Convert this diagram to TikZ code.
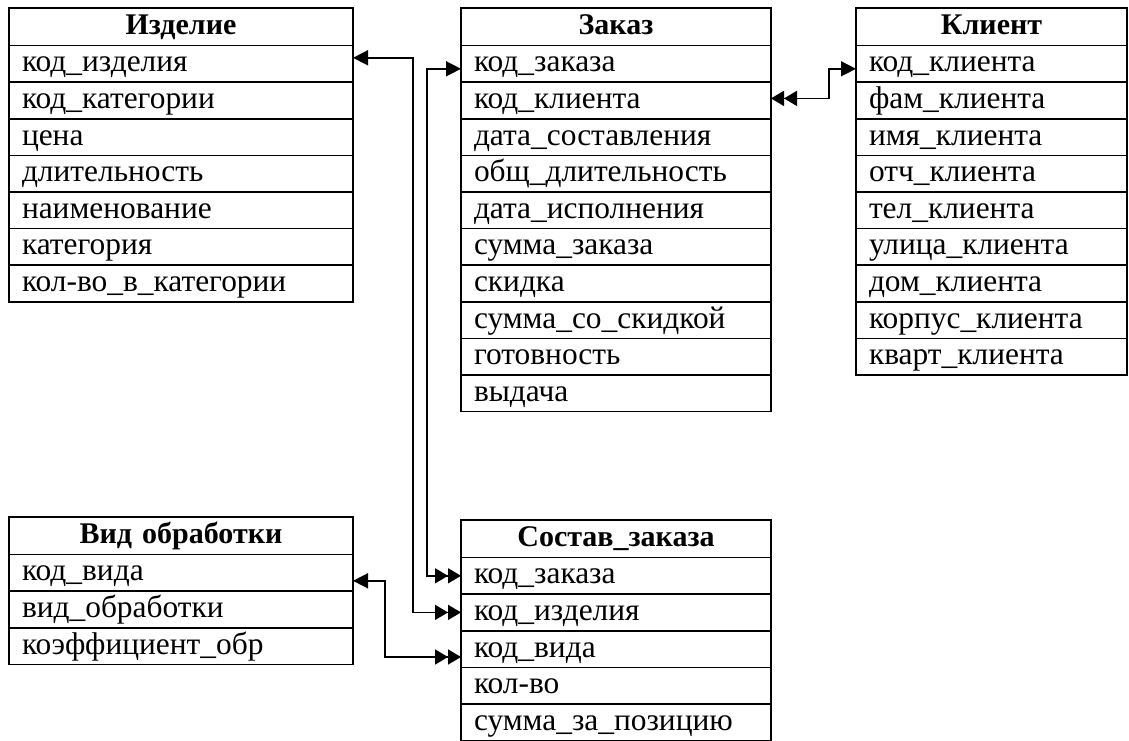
\documentclass[tikz,border=0pt]{standalone}
\usepackage{fontspec}
\setmainfont{Liberation Serif}
\usetikzlibrary{positioning,arrows.meta}
\tikzset{
  tabhead/.style={rectangle, draw, line width=0.8pt, outer sep=0pt, anchor=north west,
    text width=#1, minimum height=18.75pt, inner xsep=6.5pt, inner ysep=0pt,
    text height=11.5pt, text depth=3.5pt, align=center, font=\fontsize{15}{18}\selectfont\bfseries},
  tabrow/.style={rectangle, draw, line width=0.8pt, outer sep=0pt,
    text width=#1, minimum height=18.3pt, inner xsep=6.5pt, inner ysep=0pt,
    text height=11.5pt, text depth=3.5pt, align=left, font=\fontsize{15.7}{18}\selectfont},
  fk/.style={line width=0.8pt,
    {Triangle[length=7.5pt,width=7.5pt]}-{Triangle[length=6.5pt,width=7.5pt]Triangle[length=6.5pt,width=7.5pt]}},
}

\begin{document}
\begin{tikzpicture}
  \useasboundingbox (0,0) rectangle (564.5pt,-370pt);

  % Изделие
  \node[tabhead=159pt] (izd0) at (4.5pt,-4pt) {Изделие};
  \foreach \t [count=\i, remember=\i as \j (initially 0)] in
    {код\_изделия, код\_категории, цена, длительность, наименование, категория, кол-во\_в\_категории}
    \node[tabrow=159pt, below=0pt of izd\j] (izd\i) {\t};

  % Заказ
  \node[tabhead=142pt] (zak0) at (230.5pt,-4pt) {Заказ};
  \foreach \t [count=\i, remember=\i as \j (initially 0)] in
    {код\_заказа, код\_клиента, дата\_составления, общ\_длительность, дата\_исполнения,
     сумма\_заказа, скидка, сумма\_со\_скидкой, готовность, выдача}
    \node[tabrow=142pt, below=0pt of zak\j] (zak\i) {\t};

  % Клиент
  \node[tabhead=122.5pt] (kl0) at (428pt,-4pt) {Клиент};
  \foreach \t [count=\i, remember=\i as \j (initially 0)] in
    {код\_клиента, фам\_клиента, имя\_клиента, отч\_клиента, тел\_клиента,
     улица\_клиента, дом\_клиента, корпус\_клиента, кварт\_клиента}
    \node[tabrow=122.5pt, below=0pt of kl\j] (kl\i) {\t};

  % Вид обработки
  \node[tabhead=159pt] (vid0) at (4.5pt,-258.5pt) {Вид обработки};
  \foreach \t [count=\i, remember=\i as \j (initially 0)] in
    {код\_вида, вид\_обработки, коэффициент\_обр}
    \node[tabrow=159pt, below=0pt of vid\j] (vid\i) {\t};

  % Состав_заказа
  \node[tabhead=142pt] (sos0) at (230.5pt,-260pt) {Состав\_заказа};
  \foreach \t [count=\i, remember=\i as \j (initially 0)] in
    {код\_заказа, код\_изделия, код\_вида, кол-во, сумма\_за\_позицию}
    \node[tabrow=142pt, below=0pt of sos\j] (sos\i) {\t};

  % связи
  \draw[fk] ([yshift=3pt]izd1.east) -- ++(30pt,0) |- (sos2.west);
  \draw[fk] ([yshift=-2.5pt]zak1.west) -- ++(-17pt,0) |- (sos1.west);
  \draw[fk] ([yshift=-2.5pt]kl1.west) -- ++(-13.5pt,0) |- ([yshift=1pt]zak2.east);
  \draw[fk] ([yshift=-4pt]vid1.east) -- ++(16pt,0) |- ([yshift=-4pt]sos3.west);
\end{tikzpicture}
\end{document}
